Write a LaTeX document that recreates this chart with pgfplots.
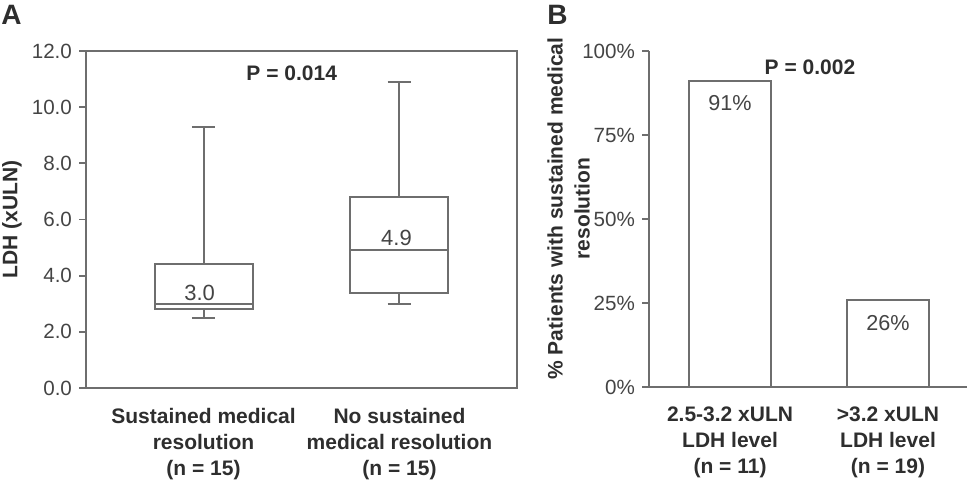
\documentclass[border=0pt]{standalone}
\usepackage{fontspec}
\setmainfont{Liberation Sans}
\usepackage{pgfplots}
\pgfplotsset{compat=1.18}
\usepgfplotslibrary{statistics}
\definecolor{linec}{HTML}{6E6E6E}
\definecolor{txtc}{HTML}{2E2E2E}
\definecolor{numc}{HTML}{444444}
\pgfplotsset{
  /pgf/number format/assume math mode=true,
  common/.style={
    scale only axis, clip=false,
    axis line style={linec, line width=0.9pt},
    every tick/.style={linec, line width=0.9pt},
    tick align=outside, major tick length=3.5pt,
    xtick={1,2}, x tick style={draw=none},
    ytick pos=left, xtick pos=bottom,
    xticklabel style={align=center, font=\bfseries\fontsize{10.5}{13}\selectfont, text=txtc, yshift=-3pt},
    yticklabel style={font=\fontsize{10.3}{12}\selectfont, text=numc},
    ylabel style={font=\bfseries\fontsize{10.5}{13.5}\selectfont, text=txtc, align=center, anchor=center},
  }
}
\begin{document}
\begin{tikzpicture}
\useasboundingbox (0pt,0pt) rectangle (486pt,240.5pt);
\begin{axis}[common,
  at={(43pt,46.5pt)}, anchor=south west, width=215.5pt, height=168.5pt,
  xmin=0.4, xmax=2.6, ymin=0, ymax=12,
  ytick={0,2,4,6,8,10,12},
  yticklabel style={/pgf/number format/.cd, fixed, fixed zerofill, precision=1},
  xticklabels={{Sustained medical\\resolution\\(n = 15)},{No sustained\\medical resolution\\(n = 15)}},
  ylabel={LDH (xULN)},
  ylabel style={at={(axis description cs:-0.172,0.5)}},
  boxplot/draw direction=y,
]
\addplot[draw=linec, line width=1pt, boxplot prepared={lower whisker=2.5, lower quartile=2.8, median=3.0, upper quartile=4.4, upper whisker=9.3, draw position=1, box extend=0.5, whisker extend=0.12}] coordinates {};
\addplot[draw=linec, line width=1pt, boxplot prepared={lower whisker=3.0, lower quartile=3.4, median=4.9, upper quartile=6.8, upper whisker=10.9, draw position=2, box extend=0.5, whisker extend=0.12}] coordinates {};
\node[font=\fontsize{11}{12}\selectfont, text=numc] at (axis cs:0.98,3.38) {3.0};
\node[font=\fontsize{11}{12}\selectfont, text=numc] at (axis cs:1.985,5.34) {4.9};
\node[font=\bfseries\fontsize{10.5}{12}\selectfont, text=txtc] at (axis cs:1.45,11.2) {P = 0.014};
\end{axis}
\begin{axis}[common,
  at={(324.5pt,47pt)}, anchor=south west, width=159pt, height=168pt,
  axis x line*=bottom, axis y line*=left,
  xmin=0.487, xmax=2.5, ymin=0, ymax=100,
  ytick={0,25,50,75,100},
  yticklabel={\pgfmathprintnumber{\tick}\%},
  xticklabels={{2.5-3.2 xULN\\LDH level\\(n = 11)},{>3.2 xULN\\LDH level\\(n = 19)}},
  ylabel={\% Patients with sustained medical\\resolution},
  ylabel style={at={(axis description cs:-0.253,0.531)}},
]
\addplot[ybar, bar width=41pt, fill=white, draw=linec, line width=1pt] coordinates {(1,91) (2,26)};
\node[font=\fontsize{10.8}{12}\selectfont, text=numc] at (axis cs:1,84.5) {91\%};
\node[font=\fontsize{10.8}{12}\selectfont, text=numc] at (axis cs:2,19) {26\%};
\node[font=\bfseries\fontsize{10.5}{12}\selectfont, text=txtc] at (axis cs:1.506,95.2) {P = 0.002};
\end{axis}
\node[font=\bfseries\fontsize{14}{14}\selectfont, text=txtc, anchor=west, inner sep=0pt] at (0.5pt,233pt) {A};
\node[font=\bfseries\fontsize{14}{14}\selectfont, text=txtc, anchor=west, inner sep=0pt] at (273.5pt,233pt) {B};
\end{tikzpicture}
\end{document}
